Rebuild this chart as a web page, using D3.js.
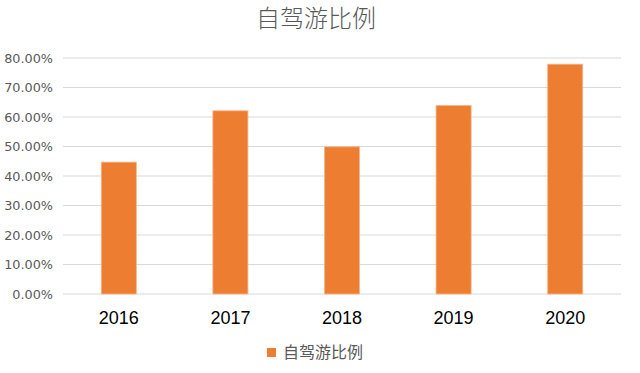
<!DOCTYPE html>
<html>
<head>
<meta charset="utf-8">
<script src="https://cdn.jsdelivr.net/npm/d3@7"></script>
<style>
  body { margin: 0; background: #fff; }
  svg { display: block; font-family: "Liberation Sans", Arial, sans-serif; }
</style>
</head>
<body>
<div id="chart"></div>
<script>
// chart data
var years = ["2016", "2017", "2018", "2019", "2020"];
var ratios = [0.447, 0.621, 0.499, 0.639, 0.779];
var yTicks = [0, 0.1, 0.2, 0.3, 0.4, 0.5, 0.6, 0.7, 0.8];
var seriesName = "自驾游比例";

var svgWidth = 640;
var svgHeight = 373;

var margin = { top: 58, right: 19, bottom: 79, left: 63 };
var chartWidth = svgWidth - margin.left - margin.right;
var chartHeight = svgHeight - margin.top - margin.bottom;

var svg = d3.select("#chart")
  .append("svg")
  .attr("width", svgWidth)
  .attr("height", svgHeight);

var chartGroup = svg.append("g")
  .attr("transform", `translate(${margin.left}, ${margin.top})`);

var xScale = d3.scaleBand()
  .domain(years)
  .range([0, chartWidth])
  .paddingInner(0.686)
  .paddingOuter(0.343);

var yScale = d3.scaleLinear()
  .domain([0, 0.8])
  .range([chartHeight, 0]);

// gridlines
chartGroup.append("g")
  .selectAll("line")
  .data(yTicks)
  .enter()
  .append("line")
  .attr("x1", 0)
  .attr("x2", chartWidth)
  .attr("y1", d => yScale(d))
  .attr("y2", d => yScale(d))
  .attr("stroke", "#d9d9d9")
  .attr("stroke-width", 1.2);

// y axis labels
var leftAxis = d3.axisLeft(yScale)
  .tickValues(yTicks)
  .tickFormat(d3.format(".2%"))
  .tickSize(0)
  .tickPadding(10);

var yAxisG = chartGroup.append("g").call(leftAxis);
yAxisG.select(".domain").remove();
yAxisG.selectAll("text")
  .attr("fill", "#595959")
  .style("font-family", "Verdana, 'DejaVu Sans', sans-serif")
  .style("font-size", "12.8px");

// x axis labels
var bottomAxis = d3.axisBottom(xScale).tickSize(0).tickPadding(17);
var xAxisG = chartGroup.append("g")
  .attr("transform", `translate(0, ${chartHeight})`)
  .call(bottomAxis);
xAxisG.select(".domain").remove();
xAxisG.selectAll("text")
  .attr("fill", "#000")
  .style("font-size", "18px");

// bars
chartGroup.append("g")
  .selectAll("rect")
  .data(ratios)
  .enter()
  .append("rect")
  .attr("x", (d, i) => xScale(years[i]))
  .attr("y", d => yScale(d))
  .attr("width", xScale.bandwidth())
  .attr("height", d => chartHeight - yScale(d))
  .attr("fill", "#ed7d31")
  .attr("stroke", "#f6b58a")
  .attr("stroke-width", 0.8);

// title
svg.append("text")
  .attr("x", svgWidth / 2 - 4)
  .attr("y", 27)
  .attr("text-anchor", "middle")
  .attr("fill", "#595959")
  .style("font-family", "'Noto Sans CJK SC', sans-serif")
  .style("font-weight", 300)
  .style("font-size", "24px")
  .text(seriesName);

// legend
var legend = svg.append("g").attr("transform", "translate(267, 348)");
legend.append("rect")
  .attr("width", 9)
  .attr("height", 9)
  .attr("fill", "#ed7d31");
legend.append("text")
  .attr("x", 16)
  .attr("y", 10)
  .attr("fill", "#595959")
  .style("font-family", "'Noto Sans CJK SC', sans-serif")
  .style("font-size", "16px")
  .text(seriesName);
</script>
</body>
</html>
